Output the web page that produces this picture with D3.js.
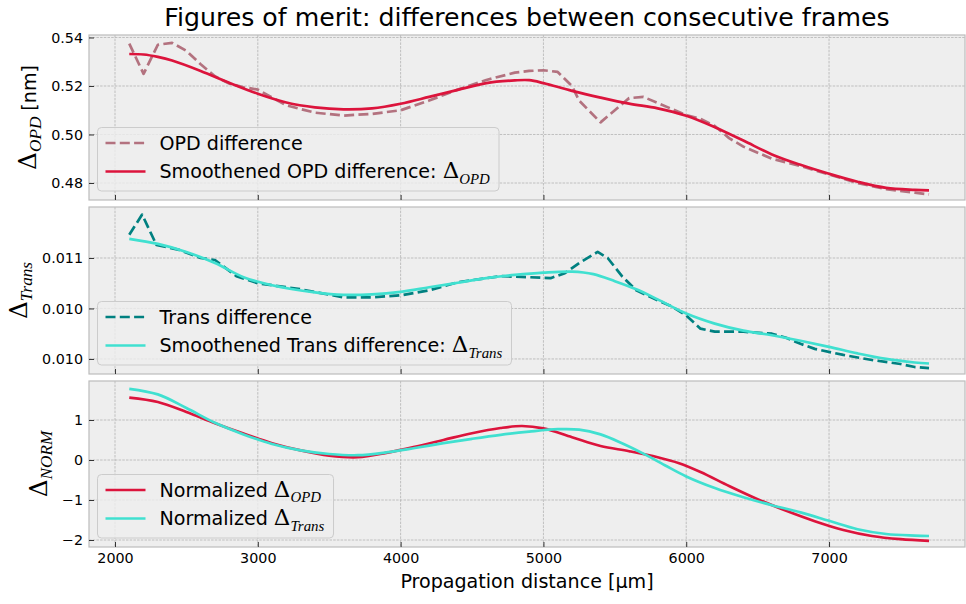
<!DOCTYPE html>
<html>
<head>
<meta charset="utf-8">
<script src="https://cdn.jsdelivr.net/npm/d3@7"></script>
<style>
  body { margin: 0; background: #fff; }
  svg text { font-family: "DejaVu Sans", sans-serif; fill: #000; }
</style>
</head>
<body>
<svg id="chart" width="966" height="604"></svg>
<script>
// values
const xTicks = [2000, 3000, 4000, 5000, 6000, 7000];

const opdTicks = [0.48, 0.50, 0.52, 0.54];
const opdTickLabels = ["0.48", "0.50", "0.52", "0.54"];
const transTicks = [0.0100, 0.0105, 0.0110];
const transTickLabels = ["0.010", "0.010", "0.011"];
const normTicks = [-2, -1, 0, 1];
const normTickLabels = ["\u22122", "\u22121", "0", "1"];

const opdDiffX = [2100, 2200, 2300, 2400, 2500, 2600, 2700, 2800, 2900, 3000, 3200, 3400, 3600, 3800, 4000, 4200, 4400, 4600, 4800, 4900, 5000, 5100, 5200, 5250, 5400, 5500, 5600, 5700, 5800, 6000, 6100, 6200, 6300, 6400, 6600, 6800, 7000, 7200, 7400, 7600, 7700];
const opdDiff = [0.5375, 0.5250, 0.5370, 0.5378, 0.5345, 0.5290, 0.5240, 0.5210, 0.5195, 0.5185, 0.5120, 0.5090, 0.5078, 0.5085, 0.5100, 0.5140, 0.5185, 0.5225, 0.5255, 0.5262, 0.5265, 0.5258, 0.5200, 0.5140, 0.5050, 0.5100, 0.5150, 0.5155, 0.5130, 0.5080, 0.5065, 0.5035, 0.4985, 0.4950, 0.4900, 0.4870, 0.4835, 0.4800, 0.4775, 0.4760, 0.4753];

const opdSmoothX = [2100, 2200, 2300, 2400, 2600, 2800, 3000, 3200, 3400, 3600, 3800, 4000, 4200, 4400, 4600, 4800, 4900, 5000, 5200, 5400, 5600, 5800, 6000, 6200, 6400, 6600, 6800, 7000, 7200, 7400, 7600, 7700];
const opdSmooth = [0.5332, 0.5330, 0.5320, 0.5305, 0.5262, 0.5213, 0.5168, 0.5132, 0.5112, 0.5104, 0.5108, 0.5127, 0.5155, 0.5184, 0.5212, 0.5223, 0.5224, 0.5212, 0.5180, 0.5152, 0.5127, 0.5108, 0.5077, 0.5030, 0.4975, 0.4918, 0.4875, 0.4838, 0.4805, 0.4780, 0.4772, 0.4770];

const transDiffX = [2100, 2190, 2290, 2450, 2600, 2700, 2850, 3000, 3300, 3600, 3800, 4000, 4200, 4400, 4700, 4900, 5050, 5150, 5250, 5380, 5450, 5550, 5650, 5800, 5900, 6000, 6100, 6200, 6400, 6600, 6700, 6800, 6900, 7100, 7300, 7500, 7600, 7700];
const transDiff = [0.01123, 0.01143, 0.01113, 0.01108, 0.01100, 0.01098, 0.01082, 0.01075, 0.01069, 0.01061, 0.01061, 0.01063, 0.01068, 0.01076, 0.01082, 0.01081, 0.01080, 0.01085, 0.01095, 0.01106, 0.01100, 0.01082, 0.01068, 0.01058, 0.01052, 0.01043, 0.01030, 0.01027, 0.01027, 0.01025, 0.01021, 0.01015, 0.01010, 0.01004, 0.00999, 0.00995, 0.00992, 0.00991];

const transSmoothX = [2100, 2300, 2500, 2700, 2900, 3100, 3400, 3600, 3800, 4000, 4200, 4400, 4600, 4800, 5000, 5200, 5350, 5500, 5650, 5800, 6000, 6200, 6400, 6600, 6800, 7000, 7200, 7400, 7600, 7700];
const transSmooth = [0.011190, 0.011140, 0.011060, 0.010950, 0.010810, 0.010730, 0.010660, 0.010635, 0.010640, 0.010665, 0.010710, 0.010755, 0.010800, 0.010832, 0.010855, 0.010865, 0.010840, 0.010770, 0.010690, 0.010590, 0.010450, 0.010350, 0.010280, 0.010235, 0.010180, 0.010120, 0.010055, 0.010000, 0.009965, 0.009955];

const normOpdX = [2100, 2300, 2500, 2700, 2900, 3100, 3300, 3500, 3700, 3900, 4100, 4300, 4500, 4700, 4850, 5000, 5200, 5400, 5600, 5800, 5950, 6100, 6300, 6500, 6700, 6900, 7100, 7300, 7500, 7700];
const normOpd = [1.56, 1.45, 1.20, 0.92, 0.66, 0.42, 0.24, 0.11, 0.07, 0.18, 0.33, 0.50, 0.67, 0.80, 0.85, 0.79, 0.57, 0.35, 0.22, 0.07, -0.08, -0.30, -0.65, -0.98, -1.27, -1.53, -1.75, -1.90, -1.98, -2.02];

const normTransX = [2100, 2300, 2500, 2700, 2900, 3100, 3300, 3500, 3700, 3900, 4100, 4300, 4500, 4700, 4900, 5100, 5250, 5400, 5550, 5700, 5850, 6000, 6200, 6400, 6600, 6800, 7000, 7200, 7400, 7600, 7700];
const normTrans = [1.78, 1.64, 1.30, 0.93, 0.64, 0.40, 0.24, 0.15, 0.12, 0.19, 0.30, 0.42, 0.53, 0.63, 0.71, 0.77, 0.76, 0.64, 0.42, 0.16, -0.13, -0.41, -0.70, -0.93, -1.13, -1.31, -1.52, -1.73, -1.85, -1.89, -1.90];

const CRIMSON = "#dc143c";
const TURQUOISE = "#40e0d0";
const MAUVE = "#b3727f";
const TEAL = "#008080";

const LEFT = 89;
const RIGHT = 965;
const FONT_TICK = 14.3;
const FONT_LABEL = 19.1;

const svg = d3.select("#chart");

const x = d3.scaleLinear().domain([1818, 7952]).range([LEFT, RIGHT]);

const zip = (xs, ys) => xs.map((xv, i) => [xv, ys[i]]);

// text helper: parts like {t}, {t, math:true}, {t, sub:true}
function writeMath(text, parts, size, deltaScale, subScale) {
  let lowered = false;
  parts.forEach((p) => {
    const span = text.append("tspan").text(p.t);
    if (p.math) {
      span.attr("font-family", "'DejaVu Serif', serif").attr("font-size", size * deltaScale);
    } else if (p.sub) {
      span
        .attr("font-family", "'Liberation Serif', serif")
        .attr("font-style", "italic")
        .attr("font-size", size * subScale)
        .attr("dy", size * 0.27);
      lowered = true;
      return;
    }
    if (lowered) {
      span.attr("dy", -size * 0.27);
      lowered = false;
    }
  });
}

const panels = [
  {
    top: 35,
    bottom: 200,
    domain: [0.47299, 0.54103],
    ticks: opdTicks,
    tickLabels: opdTickLabels,
    ylabel: [{ t: "\u0394", math: true }, { t: "OPD", sub: true }, { t: " [nm]" }],
    series: [
      { data: zip(opdDiffX, opdDiff), color: MAUVE, dashed: true, label: [{ t: "OPD difference" }] },
      {
        data: zip(opdSmoothX, opdSmooth),
        color: CRIMSON,
        label: [{ t: "Smoothened OPD difference: " }, { t: "\u0394", math: true }, { t: "OPD", sub: true }],
      },
    ],
  },
  {
    top: 207,
    bottom: 374,
    domain: [0.009851, 0.011505],
    ticks: transTicks,
    tickLabels: transTickLabels,
    ylabel: [{ t: "\u0394", math: true }, { t: "Trans", sub: true }],
    series: [
      { data: zip(transDiffX, transDiff), color: TEAL, dashed: true, label: [{ t: "Trans difference" }] },
      {
        data: zip(transSmoothX, transSmooth),
        color: TURQUOISE,
        label: [{ t: "Smoothened Trans difference: " }, { t: "\u0394", math: true }, { t: "Trans", sub: true }],
      },
    ],
  },
  {
    top: 381,
    bottom: 547,
    domain: [-2.175, 1.975],
    ticks: normTicks,
    tickLabels: normTickLabels,
    ylabel: [{ t: "\u0394", math: true }, { t: "NORM", sub: true }],
    series: [
      {
        data: zip(normOpdX, normOpd),
        color: CRIMSON,
        label: [{ t: "Normalized " }, { t: "\u0394", math: true }, { t: "OPD", sub: true }],
      },
      {
        data: zip(normTransX, normTrans),
        color: TURQUOISE,
        label: [{ t: "Normalized " }, { t: "\u0394", math: true }, { t: "Trans", sub: true }],
      },
    ],
  },
];

function drawLegend(g, panel) {
  const legend = g.append("g");
  const rect = legend.append("rect");
  let maxRight = 0;

  panel.series.forEach((s, i) => {
    const cy = 15.5 + i * 28.5;
    legend
      .append("line")
      .attr("x1", 8)
      .attr("x2", 48)
      .attr("y1", cy)
      .attr("y2", cy)
      .attr("stroke", s.color)
      .attr("stroke-width", 2.7)
      .attr("stroke-dasharray", s.dashed ? "10,4.3" : null);

    const text = legend
      .append("text")
      .attr("x", 62)
      .attr("y", cy)
      .attr("dy", "0.36em")
      .attr("font-size", FONT_LABEL);
    writeMath(text, s.label, FONT_LABEL, 1.2, 0.78);
    const bb = text.node().getBBox();
    maxRight = Math.max(maxRight, bb.x + bb.width);
  });

  const width = maxRight + 9;
  const height = 63.5;
  rect
    .attr("width", width)
    .attr("height", height)
    .attr("rx", 4)
    .attr("fill", "#eeeeee")
    .attr("fill-opacity", 0.8)
    .attr("stroke", "#cccccc")
    .attr("stroke-width", 1);

  legend.attr("transform", `translate(${LEFT + 8.5}, ${panel.bottom - 9 - height})`);
}

panels.forEach((panel, index) => {
  const y = d3.scaleLinear().domain(panel.domain).range([panel.bottom, panel.top]);
  const g = svg.append("g");
  const height = panel.bottom - panel.top;

  g.append("rect")
    .attr("x", LEFT)
    .attr("y", panel.top)
    .attr("width", RIGHT - LEFT)
    .attr("height", height)
    .attr("fill", "#eeeeee");

  const grid = g.append("g")
    .attr("stroke", "#b2b2b2")
    .attr("stroke-width", 0.8)
    .attr("stroke-dasharray", "2.5,1.2");

  grid.selectAll("line.gx")
    .data(xTicks)
    .join("line")
    .attr("x1", (d) => x(d))
    .attr("x2", (d) => x(d))
    .attr("y1", panel.top)
    .attr("y2", panel.bottom);

  grid.selectAll("line.gy")
    .data(panel.ticks)
    .join("line")
    .attr("x1", LEFT)
    .attr("x2", RIGHT)
    .attr("y1", (d) => y(d))
    .attr("y2", (d) => y(d));

  const clipId = `clip-${index}`;
  g.append("clipPath")
    .attr("id", clipId)
    .append("rect")
    .attr("x", LEFT)
    .attr("y", panel.top)
    .attr("width", RIGHT - LEFT)
    .attr("height", height);

  panel.series.forEach((s) => {
    const line = d3
      .line()
      .x((d) => x(d[0]))
      .y((d) => y(d[1]))
      .curve(s.dashed ? d3.curveLinear : d3.curveCatmullRom.alpha(0.5));

    g.append("path")
      .datum(s.data)
      .attr("clip-path", `url(#${clipId})`)
      .attr("fill", "none")
      .attr("stroke", s.color)
      .attr("stroke-width", 2.7)
      .attr("stroke-linejoin", "round")
      .attr("stroke-dasharray", s.dashed ? "10,4.3" : null)
      .attr("d", line);
  });

  g.append("rect")
    .attr("x", LEFT)
    .attr("y", panel.top)
    .attr("width", RIGHT - LEFT)
    .attr("height", height)
    .attr("fill", "none")
    .attr("stroke", "#bcbcbc")
    .attr("stroke-width", 1.2);

  const yAxis = g.append("g")
    .attr("transform", `translate(${LEFT},0)`)
    .call(
      d3.axisLeft(y)
        .tickValues(panel.ticks)
        .tickFormat((d, i) => panel.tickLabels[i])
        .tickSizeInner(-5)
        .tickSizeOuter(0)
        .tickPadding(6)
    );
  yAxis.select(".domain").remove();
  yAxis.selectAll(".tick line").attr("stroke", "#333");
  yAxis.selectAll("text").attr("font-size", FONT_TICK).attr("font-family", "DejaVu Sans").attr("fill", "#222");

  const xAxis = g.append("g")
    .attr("transform", `translate(0,${panel.bottom})`)
    .call(
      d3.axisBottom(x)
        .tickValues(xTicks)
        .tickFormat(index === panels.length - 1 ? d3.format("d") : () => "")
        .tickSizeInner(-5)
        .tickSizeOuter(0)
        .tickPadding(6)
    );
  xAxis.select(".domain").remove();
  xAxis.selectAll(".tick line").attr("stroke", "#333");
  xAxis.selectAll("text").attr("font-size", FONT_TICK).attr("font-family", "DejaVu Sans").attr("fill", "#222");

  drawLegend(g, panel);

  // y label sits left of the tick labels
  const tickBox = yAxis.node().getBBox();
  const labelGroup = g.append("g");
  const label = labelGroup
    .append("text")
    .attr("transform", "rotate(-90)")
    .attr("text-anchor", "middle")
    .attr("font-size", FONT_LABEL);
  writeMath(label, panel.ylabel, FONT_LABEL, 1.3, 0.9);
  const lb = labelGroup.node().getBBox();
  const tickLeft = LEFT + tickBox.x;
  labelGroup.attr(
    "transform",
    `translate(${tickLeft - 6 - (lb.x + lb.width)}, ${(panel.top + panel.bottom) / 2})`
  );
});

svg.append("text")
  .attr("x", (LEFT + RIGHT) / 2)
  .attr("y", 26)
  .attr("text-anchor", "middle")
  .attr("font-size", 25.2)
  .text("Figures of merit: differences between consecutive frames");

svg.append("text")
  .attr("x", (LEFT + RIGHT) / 2)
  .attr("y", 588)
  .attr("text-anchor", "middle")
  .attr("font-size", FONT_LABEL)
  .text("Propagation distance [\u00b5m]");
</script>
</body>
</html>
